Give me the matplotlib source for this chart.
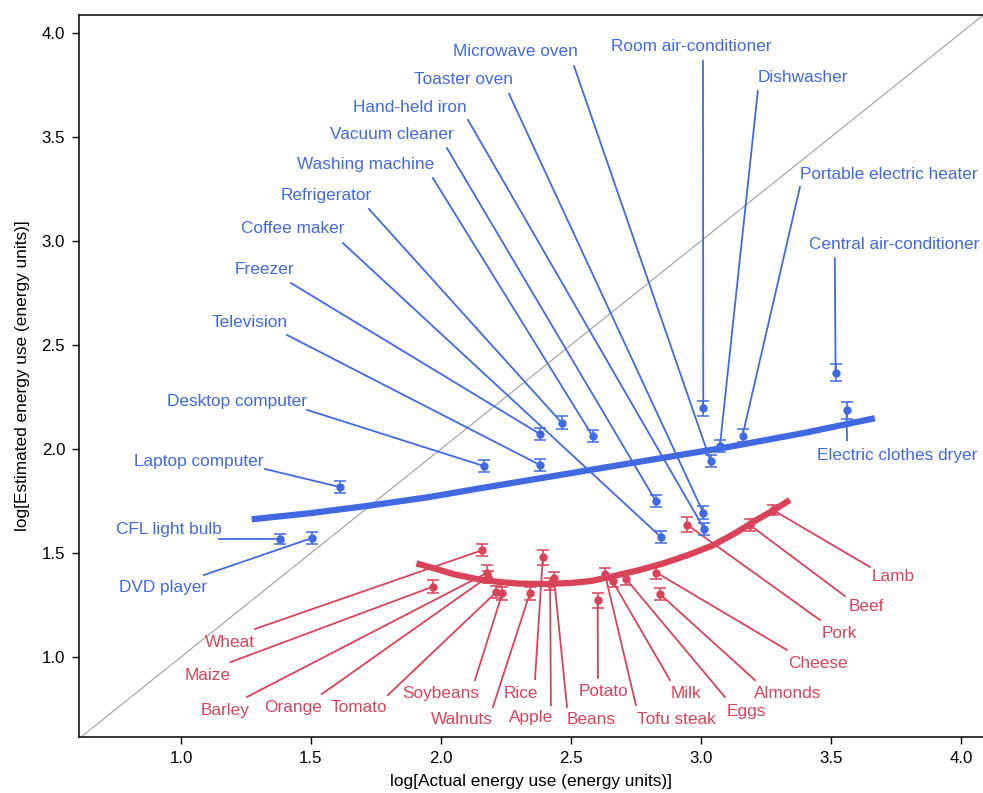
import matplotlib
matplotlib.use("Agg")
import matplotlib.pyplot as plt

BLUE = "#4169E1"
RED = "#D8435A"

# appliances: name, log actual, log estimated, error
appliances = ["CFL light bulb", "DVD player", "Laptop computer", "Desktop computer",
              "Television", "Freezer", "Coffee maker", "Refrigerator",
              "Washing machine", "Vacuum cleaner", "Hand-held iron", "Toaster oven",
              "Microwave oven", "Room air-conditioner", "Dishwasher",
              "Portable electric heater", "Central air-conditioner",
              "Electric clothes dryer"]
app_actual = [1.381, 1.504, 1.612, 2.165, 2.381, 2.381, 2.846, 2.464, 2.583, 2.826,
              3.013, 3.009, 3.037, 3.009, 3.073, 3.160, 3.518, 3.560]
app_est = [1.567, 1.572, 1.817, 1.918, 1.923, 2.072, 1.577, 2.127, 2.063, 1.751,
           1.615, 1.694, 1.942, 2.196, 2.014, 2.064, 2.367, 2.186]
app_err = [0.025, 0.03, 0.03, 0.03, 0.03, 0.03, 0.03, 0.03, 0.03, 0.03,
           0.03, 0.03, 0.03, 0.035, 0.03, 0.03, 0.04, 0.04]

foods = ["Wheat", "Maize", "Barley", "Orange", "Tomato", "Soybeans", "Walnuts",
         "Rice", "Apple", "Beans", "Potato", "Tofu steak", "Milk", "Eggs",
         "Almonds", "Cheese", "Pork", "Beef", "Lamb"]
food_actual = [2.159, 1.968, 2.178, 2.18, 2.213, 2.236, 2.342, 2.392, 2.42, 2.435,
               2.603, 2.631, 2.66, 2.713, 2.842, 2.829, 2.947, 3.188, 3.277]
food_est = [1.514, 1.338, 1.405, 1.385, 1.312, 1.306, 1.306, 1.479, 1.35, 1.378,
            1.273, 1.399, 1.365, 1.374, 1.303, 1.406, 1.636, 1.635, 1.707]
food_err = [0.03, 0.03, 0.035, 0.03, 0.03, 0.03, 0.03, 0.035, 0.03, 0.03,
            0.035, 0.03, 0.03, 0.03, 0.03, 0.03, 0.035, 0.03, 0.025]

# fitted curves
app_fit_x = [1.272, 1.5, 1.714, 1.95, 2.15, 2.419, 2.75, 3.112, 3.4, 3.669]
app_fit_y = [1.662, 1.692, 1.726, 1.768, 1.811, 1.867, 1.936, 2.011, 2.078, 2.148]
food_fit_x = [1.906, 1.98, 2.05, 2.15, 2.23, 2.3, 2.406, 2.5, 2.58, 2.663, 2.75,
              2.85, 2.95, 3.048, 3.13, 3.214, 3.28, 3.342]
food_fit_y = [1.45, 1.424, 1.398, 1.372, 1.36, 1.353, 1.351, 1.356, 1.366, 1.389,
              1.414, 1.448, 1.49, 1.538, 1.594, 1.659, 1.706, 1.755]

# label layout: text centre (x, y) and leader start (x, y)
app_labels = [(0.954, 1.615, 1.146, 1.567), (0.931, 1.332, 1.088, 1.394),
              (1.069, 1.942, 1.323, 1.904), (1.215, 2.226, 1.485, 2.188),
              (1.265, 2.606, 1.408, 2.548), (1.323, 2.865, 1.423, 2.798),
              (1.431, 3.058, 1.623, 2.990), (1.558, 3.221, 1.723, 3.154),
              (1.712, 3.370, 1.969, 3.303), (1.812, 3.510, 2.023, 3.447),
              (1.881, 3.644, 2.104, 3.582), (2.085, 3.774, 2.262, 3.707),
              (2.285, 3.909, 2.512, 3.841), (2.962, 3.933, 3.008, 3.865),
              (3.392, 3.788, 3.219, 3.721), (3.723, 3.322, 3.381, 3.260),
              (3.742, 2.981, 3.515, 2.918), (3.754, 1.971, 3.562, 2.043)]
food_labels = [(1.188, 1.072, 1.285, 1.135), (1.104, 0.913, 1.192, 0.976),
               (1.169, 0.745, 1.254, 0.808), (1.431, 0.755, 1.542, 0.822),
               (1.685, 0.755, 1.796, 0.817), (2.0, 0.827, 2.131, 0.889),
               (2.081, 0.702, 2.2, 0.760), (2.308, 0.827, 2.362, 0.894),
               (2.346, 0.707, 2.423, 0.769), (2.577, 0.702, 2.485, 0.760),
               (2.627, 0.832, 2.604, 0.899), (2.904, 0.702, 2.75, 0.769),
               (2.942, 0.827, 2.881, 0.889), (3.173, 0.736, 3.092, 0.808),
               (3.335, 0.827, 3.208, 0.889), (3.45, 0.971, 3.331, 1.034),
               (3.531, 1.115, 3.458, 1.178), (3.638, 1.245, 3.554, 1.293),
               (3.738, 1.389, 3.65, 1.433)]

plt.rcParams['font.family'] = ['Liberation Sans', 'DejaVu Sans']

fig = plt.figure(figsize=(9.83, 7.93), dpi=100)
ax = fig.add_axes([0.0804, 0.071, 0.9196, 0.9105])

x0, x1 = 0.608, 4.085
y0, y1 = 0.617, 4.088
ax.set_xlim(x0, x1)
ax.set_ylim(y0, y1)

# identity line
ax.plot([0, 5], [0, 5], color="#a8a8a8", lw=0.9, zorder=1)


def draw_group(names, xs, ys, errs, labels, color, fit_x, fit_y):
    for name, x, y, lab in zip(names, xs, ys, labels):
        tx, ty, sx, sy = lab
        ax.plot([sx, x], [sy, y], color=color, lw=1.3, zorder=2)
        ax.text(tx, ty, name, color=color, fontsize=12.4, ha="center", va="center")
    ax.plot(fit_x, fit_y, color=color, lw=4.5, solid_capstyle="butt",
            solid_joinstyle="round", zorder=3)
    ax.errorbar(xs, ys, yerr=errs, fmt="o", color=color, ms=5, elinewidth=1.1,
                capsize=4, capthick=1.1, zorder=4)


draw_group(appliances, app_actual, app_est, app_err, app_labels, BLUE,
           app_fit_x, app_fit_y)
draw_group(foods, food_actual, food_est, food_err, food_labels, RED,
           food_fit_x, food_fit_y)

ax.set_xticks([1.0, 1.5, 2.0, 2.5, 3.0, 3.5, 4.0])
ax.set_yticks([1.0, 1.5, 2.0, 2.5, 3.0, 3.5, 4.0])
ax.tick_params(labelsize=12.2, length=5, width=1, direction="out", pad=5)
ax.spines["right"].set_visible(False)
for s in ["left", "bottom", "top"]:
    ax.spines[s].set_linewidth(1.1)

ax.set_xlabel("log[Actual energy use (energy units)]", fontsize=12.4, labelpad=6)
ax.set_ylabel("log[Estimated energy use (energy units)]", fontsize=12.4, labelpad=8)

fig.savefig("out.png", dpi=100)
